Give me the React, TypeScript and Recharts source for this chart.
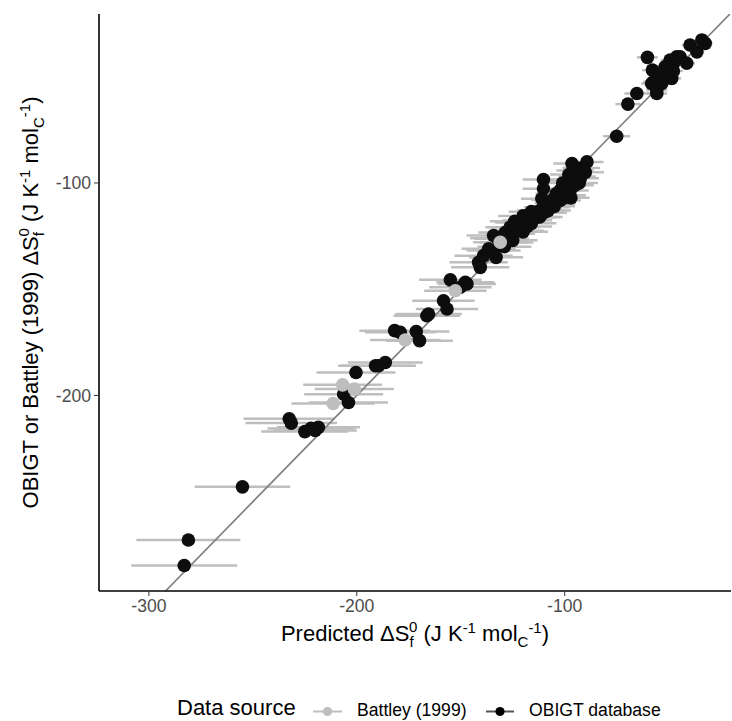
import React from 'react'
import {
  ScatterChart,
  Scatter,
  XAxis,
  YAxis,
  ErrorBar,
  ReferenceLine,
  Label
} from 'recharts'

// [predicted, observed (OBIGT or Battley), error of prediction]
const obigtPoints: [number, number, number][] = [
  [-283, -280, 25.5], [-281, -268, 25], [-255, -243, 23],
  [-232.5, -211, 22], [-231.5, -213, 22], [-225, -217, 21], [-222, -215.5, 21],
  [-218.5, -215, 20], [-220, -216.5, 20],
  [-206.3, -199.4, 19], [-204, -203.3, 19], [-200.4, -189.2, 19],
  [-191, -186, 18], [-189.5, -186, 18], [-186.3, -184.5, 18],
  [-181.8, -169.5, 17], [-179.1, -170.3, 17], [-171.4, -169.9, 16], [-169.8, -174.2, 16],
  [-166.3, -162.5, 16], [-165.5, -161.7, 16],
  [-158.3, -155.4, 15], [-156.6, -159.3, 15], [-155, -145.6, 15], [-150.2, -149.1, 15],
  [-147.8, -146.7, 14], [-147, -147.5, 14],
  [-141.4, -137.3, 14], [-140.6, -139.7, 14], [-139, -134.2, 14], [-136.6, -131, 13],
  [-133, -135, 13], [-129, -130, 13],
  [-134.2, -131.8, 13], [-134.2, -124.7, 13], [-132.5, -126, 13], [-130.2, -126.3, 13],
  [-128.6, -123.3, 13], [-128, -128, 13], [-126.2, -123.9, 12], [-126.2, -120.8, 12],
  [-125, -127, 12], [-120, -123, 12], [-116, -119, 12], [-112, -116, 11],
  [-124, -118, 12], [-123.8, -120.8, 12], [-122, -122.5, 12], [-121.4, -118.6, 12],
  [-120, -115.5, 12], [-118, -117.6, 12], [-118, -120.5, 12], [-116, -113.5, 11],
  [-115, -116.1, 11], [-113, -116, 11], [-111.8, -112.9, 11], [-110, -114, 11],
  [-108.6, -111.4, 11], [-108, -113, 11], [-105, -111, 10],
  [-110.2, -98.4, 10], [-110.2, -102.7, 10], [-111, -107.4, 10],
  [-104.6, -109.6, 10], [-102.2, -108.2, 10], [-102.2, -103.5, 10], [-100, -107, 10],
  [-106, -108, 10], [-104, -105, 10], [-101, -100, 10], [-98, -96, 9],
  [-94, -97, 9], [-92, -93, 9],
  [-99.8, -105.8, 10], [-98.3, -98.8, 9], [-97.4, -103.5, 9], [-97, -107, 9],
  [-95, -101.1, 9], [-95, -94.1, 9], [-93, -100, 9], [-92.5, -97.8, 9],
  [-90.1, -95, 9], [-96.5, -90.9, 9], [-89.3, -90.1, 8],
  [-75, -78, 6.5], [-69.6, -62.9, 6], [-65.3, -57.9, 6],
  [-60.2, -40.9, 5], [-57.8, -46.9, 5], [-57.3, -52.4, 5], [-58.2, -53.2, 5],
  [-55.7, -57.9, 5], [-55.7, -56.3, 5], [-53.3, -53.2, 5], [-53.6, -48.5, 5],
  [-51.7, -45.3, 4.5], [-50.9, -48.5, 4.5], [-49.3, -42.2, 4.5], [-48.5, -50.8, 4.5],
  [-47.7, -43.7, 4.5], [-47.7, -47.3, 4.5], [-46.1, -40.6, 4], [-44.5, -40.6, 4],
  [-41.3, -43.7, 4], [-39.7, -35.1, 4], [-36.4, -38.3, 3.5], [-34, -32.7, 3.5],
  [-32.4, -34.3, 3.5]
]

const battleyPoints: [number, number, number][] = [
  [-211.4, -203.8, 20], [-206.8, -195, 19], [-201.2, -197, 19],
  [-176.7, -173.9, 17], [-152.6, -150.7, 15], [-131, -127.9, 13]
]

const xTicks = [-300, -200, -100]
const yTicks = [-200, -100]
const xDomain = [-324, -20]
const yDomain = [-292, -20.5]

const FONT = '"Liberation Sans", Arial, Helvetica, sans-serif'
const BAR_GREY = '#BEBEBE'
const DOT_R = 6.8

const toRows = (pts: [number, number, number][]) =>
  pts.map(([x, y, err]) => ({ x, y, err }))

const obigtData = toRows(obigtPoints)
const battleyData = toRows(battleyPoints)
const allData = [...obigtData, ...battleyData]

const dot = (fill: string) => (props: any) =>
  <circle cx={props.cx} cy={props.cy} r={DOT_R} fill={fill} />

// ΔS_f^0 (J K^-1 mol_C^-1), sub and sup of S stacked like plotmath
const unitSpans = (
  <>
    <tspan dy={6} fontSize={15}>f</tspan>
    <tspan dx={-4.5} dy={-15} fontSize={15}>0</tspan>
    <tspan dy={9}> (J K</tspan>
    <tspan dy={-8} fontSize={15}>-1</tspan>
    <tspan dy={8}> mol</tspan>
    <tspan dy={6} fontSize={15}>C</tspan>
    <tspan dy={-14} fontSize={15}>-1</tspan>
    <tspan dy={8}>)</tspan>
  </>
)

const XTitle = (props: any) => {
  const { x, y, width } = props.viewBox
  return (
    <text x={x + width / 2} y={y + 50} textAnchor="middle" fontSize={22} fill="#000" fontFamily={FONT}>
      Predicted ΔS{unitSpans}
    </text>
  )
}

const YTitle = (props: any) => {
  const { y, height } = props.viewBox
  const cx = 38
  const cy = y + height / 2
  return (
    <text x={cx} y={cy} transform={`rotate(-90, ${cx}, ${cy})`} textAnchor="middle" fontSize={22} fill="#000" fontFamily={FONT}>
      OBIGT or Battley (1999) ΔS{unitSpans}
    </text>
  )
}

function LegendBlock() {
  return (
    <svg width={732} height={61} style={{ position: 'absolute', left: 0, top: 660 }}>
      <text x={177} y={55} fontSize={22} fontFamily={FONT} fill="#000">Data source</text>
      <line x1={313} x2={342} y1={51.5} y2={51.5} stroke={BAR_GREY} strokeWidth={2} />
      <circle cx={327.5} cy={51.5} r={4.6} fill={BAR_GREY} />
      <text x={357} y={56} fontSize={17.6} fontFamily={FONT} fill="#000">Battley (1999)</text>
      <line x1={486} x2={514} y1={51.5} y2={51.5} stroke="#555" strokeWidth={2} />
      <circle cx={500} cy={51.5} r={4.6} fill="#000" />
      <text x={529} y={56} fontSize={17.6} fontFamily={FONT} fill="#000">OBIGT database</text>
    </svg>
  )
}

export default function App() {
  const tickStyle = { fontSize: 17.6, fill: '#4D4D4D', fontFamily: FONT }
  return (
    <div style={{ position: 'absolute', left: 0, top: 0, width: 732, height: 721, background: '#fff' }}>
      <ScatterChart width={732} height={721} margin={{ top: 14, right: 1, bottom: 90, left: 0 }}>
        <XAxis
          type="number"
          dataKey="x"
          domain={xDomain}
          ticks={xTicks}
          allowDataOverflow
          height={40}
          tick={tickStyle}
          tickSize={5}
          tickMargin={4}
          tickLine={{ stroke: '#333' }}
          axisLine={{ stroke: '#000', strokeWidth: 1.6 }}
        >
          <Label content={XTitle} />
        </XAxis>
        <YAxis
          type="number"
          dataKey="y"
          domain={yDomain}
          ticks={yTicks}
          allowDataOverflow
          width={99}
          tick={tickStyle}
          tickSize={5}
          tickMargin={3}
          tickLine={{ stroke: '#333' }}
          axisLine={{ stroke: '#000', strokeWidth: 1.6 }}
        >
          <Label content={YTitle} />
        </YAxis>
        <Scatter data={allData} shape={() => <g />} isAnimationActive={false}>
          <ErrorBar dataKey="err" direction="x" width={0} stroke={BAR_GREY} strokeWidth={2.5} />
        </Scatter>
        <Scatter data={obigtData} shape={dot('#0D0D0D')} isAnimationActive={false} />
        <Scatter data={battleyData} shape={dot(BAR_GREY)} isAnimationActive={false} />
        <ReferenceLine
          segment={[{ x: yDomain[0], y: yDomain[0] }, { x: yDomain[1], y: yDomain[1] }]}
          stroke="#808080"
          strokeWidth={1.7}
          ifOverflow="hidden"
        />
      </ScatterChart>
      <LegendBlock />
    </div>
  )
}
